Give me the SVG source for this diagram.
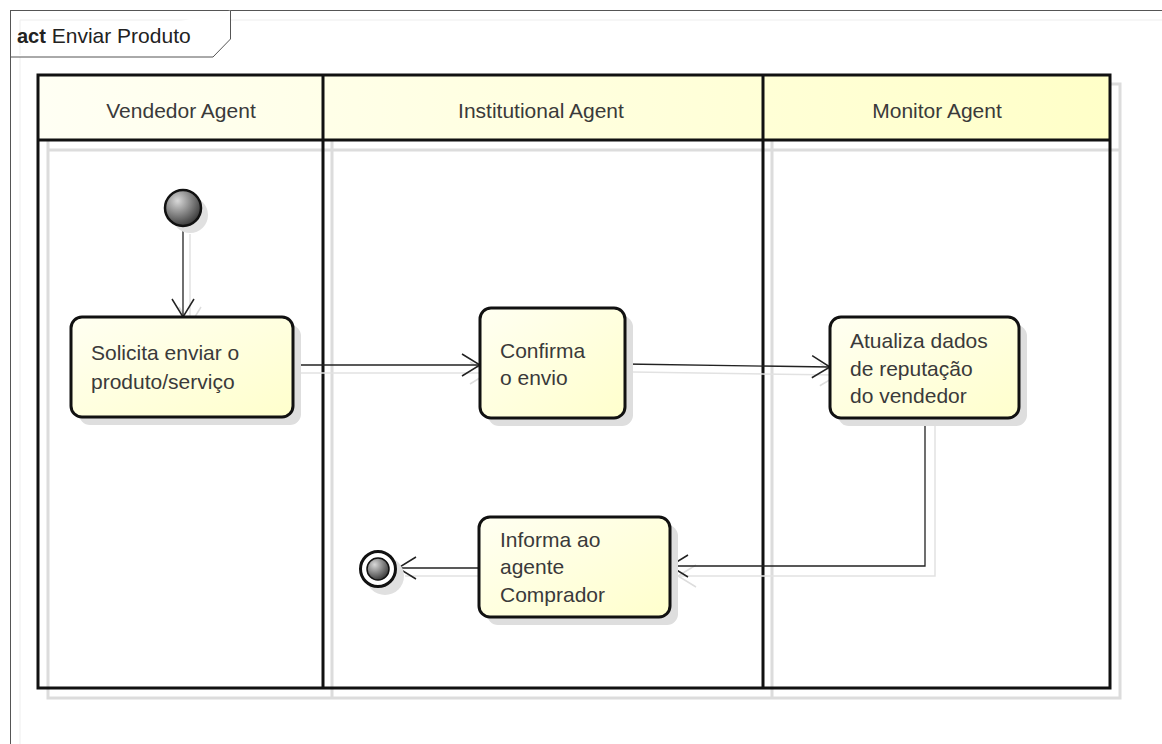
<svg xmlns="http://www.w3.org/2000/svg" width="1162" height="744" viewBox="0 0 1162 744">
<defs>
<linearGradient id="hdr" x1="0" y1="0" x2="1" y2="0">
<stop offset="0" stop-color="#fffff4"/><stop offset="1" stop-color="#ffffc8"/>
</linearGradient>
<linearGradient id="act" x1="0" y1="0" x2="1" y2="1">
<stop offset="0" stop-color="#fffff2"/><stop offset="1" stop-color="#ffffcc"/>
</linearGradient>
<radialGradient id="ball" cx="0.35" cy="0.3" r="0.8">
<stop offset="0" stop-color="#d8d8d8"/><stop offset="1" stop-color="#2a2a2a"/>
</radialGradient>
<marker id="arr" viewBox="0 0 20 24" refX="19" refY="12" markerWidth="20" markerHeight="24" markerUnits="userSpaceOnUse" orient="auto">
<path d="M1,1 L19,12 L1,23" fill="none" stroke="#222" stroke-width="1.5"/>
</marker>
<marker id="arrs" viewBox="0 0 20 24" refX="19" refY="12" markerWidth="20" markerHeight="24" markerUnits="userSpaceOnUse" orient="auto">
<path d="M1,1 L19,12 L1,23" fill="none" stroke="#ddd" stroke-width="1.5"/>
</marker>
</defs>
<style>
.t{font-family:"Liberation Sans",Arial,sans-serif;font-size:21px;fill:#3a3a3a}
.lane{fill:none;stroke:#111;stroke-width:3}
.sh{fill:none;stroke:#dcdcdc;stroke-width:3}
.box{fill:url(#act);stroke:#111;stroke-width:3}
.boxsh{fill:#dedede}
.c{fill:none;stroke:#222;stroke-width:1.3}
.cs{fill:none;stroke:#e2e2e2;stroke-width:1.5}
</style>
<rect width="1162" height="744" fill="#fff"/>
<g id="frame">
<path d="M20,744 V20 H1162" fill="none" stroke="#eee" stroke-width="1"/>
<rect x="10.5" y="10.5" width="1160" height="740" fill="none" stroke="#555" stroke-width="1"/>
<path d="M10.5,57 H213 L230.5,39 V10.5" fill="#fff" stroke="#555" stroke-width="1"/>
<text x="17" y="43" class="t" style="fill:#222"><tspan font-weight="bold" font-size="20">act</tspan> Enviar Produto</text>
</g>
<g id="lanes">
<rect x="48" y="84" width="1072" height="614" class="sh"/>
<line x1="332" y1="84" x2="332" y2="698" class="sh"/>
<line x1="772" y1="84" x2="772" y2="698" class="sh"/>
<line x1="48" y1="150" x2="1120" y2="150" class="sh"/>
<rect x="38" y="75" width="1072" height="65" fill="url(#hdr)"/>
<rect x="38" y="75" width="1072" height="613" class="lane"/>
<line x1="323" y1="75" x2="323" y2="688" class="lane"/>
<line x1="763" y1="75" x2="763" y2="688" class="lane"/>
<line x1="38" y1="140" x2="1110" y2="140" class="lane"/>
<text x="181" y="118" class="t" text-anchor="middle">Vendedor Agent</text>
<text x="541" y="118" class="t" text-anchor="middle">Institutional Agent</text>
<text x="937" y="118" class="t" text-anchor="middle">Monitor Agent</text>
</g>
<g id="connectors">
<path d="M190,234 V325" class="cs" marker-end="url(#arrs)"/>
<path d="M301,373 H488" class="cs" marker-end="url(#arrs)"/>
<path d="M633,372 L838,375" class="cs" marker-end="url(#arrs)"/>
<path d="M935,426 V576 H678" class="cs" marker-end="url(#arrs)"/>
<path d="M487,576 H405" class="cs"/>
<path d="M183,227 V317" class="c" marker-end="url(#arr)"/>
<path d="M293,365 H480" class="c" marker-end="url(#arr)"/>
<path d="M625,364 L830,367" class="c" marker-end="url(#arr)"/>
<path d="M925,418 V566 H670" class="c" marker-end="url(#arr)"/>
<path d="M479,568 H398" class="c" marker-end="url(#arr)"/>
</g>
<g id="start">
<circle cx="190" cy="215" r="18" fill="#e0e0e0"/>
<circle cx="183" cy="208" r="18" fill="url(#ball)" stroke="#111" stroke-width="2.5"/>
</g>
<g id="a1">
<rect x="79" y="325" width="222" height="100" rx="11" class="boxsh"/>
<rect x="71" y="317" width="222" height="100" rx="11" class="box"/>
<text x="91" y="360" class="t">Solicita enviar o</text>
<text x="91" y="389" class="t">produto/serviço</text>
</g>
<g id="a2">
<rect x="488" y="316" width="145" height="110" rx="11" class="boxsh"/>
<rect x="480" y="308" width="145" height="110" rx="11" class="box"/>
<text x="500" y="358" class="t">Confirma</text>
<text x="500" y="385" class="t">o envio</text>
</g>
<g id="a3">
<rect x="838" y="325" width="189" height="101" rx="11" class="boxsh"/>
<rect x="830" y="317" width="189" height="101" rx="11" class="box"/>
<text x="850" y="348" class="t">Atualiza dados</text>
<text x="850" y="376" class="t">de reputação</text>
<text x="850" y="403" class="t">do vendedor</text>
</g>
<g id="a4">
<rect x="487" y="525" width="191" height="100" rx="11" class="boxsh"/>
<rect x="479" y="517" width="191" height="100" rx="11" class="box"/>
<text x="500" y="547" class="t">Informa ao</text>
<text x="500" y="574" class="t">agente</text>
<text x="500" y="602" class="t">Comprador</text>
</g>
<g id="end">
<circle cx="385" cy="576" r="19" fill="#e0e0e0"/>
<circle cx="378" cy="569" r="17.5" fill="#fff" stroke="#111" stroke-width="3"/>
<circle cx="378" cy="569" r="11" fill="url(#ball)" stroke="#111" stroke-width="1.5"/>
</g>
</svg>
